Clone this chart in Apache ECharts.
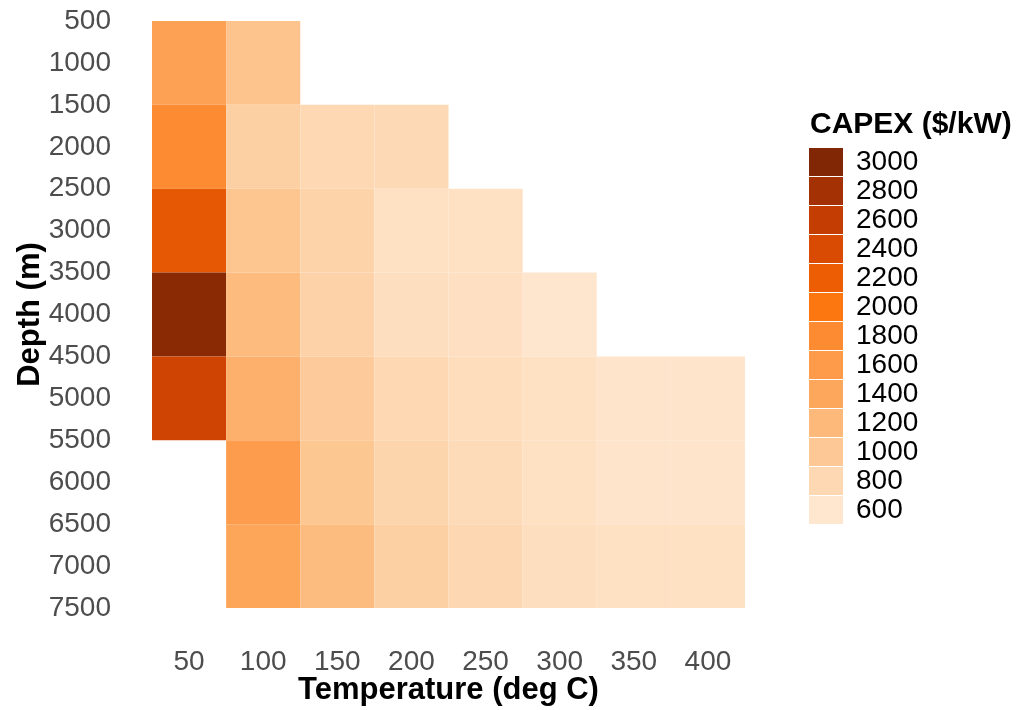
<!DOCTYPE html>
<html>
<head>
<meta charset="utf-8">
<script src="https://cdn.jsdelivr.net/npm/echarts@6/dist/echarts.min.js"></script>
<style>
html,body{margin:0;padding:0;background:#fff;}
#main{width:1021px;height:710px;}
</style>
</head>
<body>
<div id="main"></div>
<script>
// ---- data ----
var temperatures = ['50', '100', '150', '200', '250', '300', '350', '400'];
var depths = [1000, 2000, 3000, 4000, 5000, 6000, 7000];
var depthTicks = [500, 1000, 1500, 2000, 2500, 3000, 3500, 4000, 4500, 5000, 5500, 6000, 6500, 7000, 7500];
// CAPEX ($/kW) per temperature column, one value per depth (null = no cell)
var capex50  = [1480, 1800, 2250, 2950, 2500, null, null];
var capex100 = [1050, 900, 1030, 1180, 1300, 1580, 1420];
var capex150 = [null, 800, 860, 870, 960, 1020, 1160];
var capex200 = [null, 780, 680, 720, 800, 840, 900];
var capex250 = [null, null, 680, 700, 730, 760, 810];
var capex300 = [null, null, null, 615, 680, 680, 720];
var capex350 = [null, null, null, null, 630, 630, 680];
var capex400 = [null, null, null, null, 630, 630, 680];
var legendValues = [3000, 2800, 2600, 2400, 2200, 2000, 1800, 1600, 1400, 1200, 1000, 800, 600];
var legendColors = ['#812705', '#a43103', '#c43d02', '#d94a02', '#ec5d04', '#fd7710', '#fd8b31', '#fd9b4a', '#fda75c', '#fdb97a', '#fdc895', '#fdd8b2', '#fee6cf'];

var columns = [capex50, capex100, capex150, capex200, capex250, capex300, capex350, capex400];
var cellData = [];
columns.forEach(function (col, xi) {
  col.forEach(function (v, yi) {
    if (v != null) cellData.push([xi, depths[yi], v]);
  });
});

var FONT = '"Liberation Sans", Arial, Helvetica, sans-serif';
var chart = echarts.init(document.getElementById('main'), null, {renderer: 'canvas'});
var rampColors = legendColors.slice().reverse();

chart.setOption({
  backgroundColor: '#ffffff',
  animation: false,
  title: {
    text: 'CAPEX ($/kW)',
    left: 805,
    top: 105,
    textStyle: {fontFamily: FONT, fontWeight: 'bold', fontSize: 30, color: '#000'}
  },
  grid: {left: 152, right: 276, top: 21, bottom: 102, containLabel: false, outerBoundsMode: 'none'},
  xAxis: {
    type: 'category',
    data: temperatures,
    name: 'Temperature (deg C)',
    nameLocation: 'middle',
    nameGap: 67,
    nameMoveOverlap: false,
    nameTextStyle: {fontFamily: FONT, fontWeight: 'bold', fontSize: 31, color: '#000'},
    axisLine: {show: false},
    axisTick: {show: false},
    splitLine: {show: false},
    axisLabel: {fontFamily: FONT, fontSize: 28, color: '#4d4d4d', margin: 40}
  },
  yAxis: {
    type: 'value',
    inverse: true,
    min: 500,
    max: 7500,
    interval: 500,
    name: 'Depth (m)',
    nameLocation: 'middle',
    nameGap: 106,
    nameMoveOverlap: false,
    nameTextStyle: {fontFamily: FONT, fontWeight: 'bold', fontSize: 31, color: '#000'},
    axisLine: {show: false},
    axisTick: {show: false},
    splitLine: {show: false},
    axisLabel: {
      fontFamily: FONT, fontSize: 28, color: '#4d4d4d', margin: 41,
      formatter: function (v) { return depthTicks.indexOf(v) >= 0 ? String(v) : ''; }
    }
  },
  visualMap: [
    {
      type: 'continuous',
      show: false,
      seriesIndex: 0,
      dimension: 2,
      min: 600,
      max: 3000,
      inRange: {color: rampColors}
    },
    {
      type: 'piecewise',
      seriesIndex: 1,
      orient: 'vertical',
      align: 'left',
      left: 794,
      top: 133,
      itemWidth: 34,
      itemHeight: 27.8,
      itemGap: 1,
      itemSymbol: 'rect',
      selectedMode: false,
      textGap: 13,
      textStyle: {fontFamily: FONT, fontSize: 28, color: '#000'},
      pieces: legendValues.map(function (v, i) {
        return {value: v, label: String(v), color: legendColors[i]};
      })
    }
  ],
  series: [
    {
      type: 'custom',
      data: cellData,
      encode: {x: 0, y: 1},
      renderItem: function (params, api) {
        var xi = api.value(0);
        var d = api.value(1);
        var top = api.coord([xi, d - 500]);
        var bot = api.coord([xi, d + 500]);
        var w = api.size([1, 0])[0];
        return {
          type: 'rect',
          shape: {x: top[0] - w / 2, y: top[1], width: w, height: bot[1] - top[1]},
          style: {fill: api.visual('color')}
        };
      }
    },
    {
      type: 'custom',
      data: [],
      renderItem: function () { return null; }
    }
  ]
});
</script>
</body>
</html>
